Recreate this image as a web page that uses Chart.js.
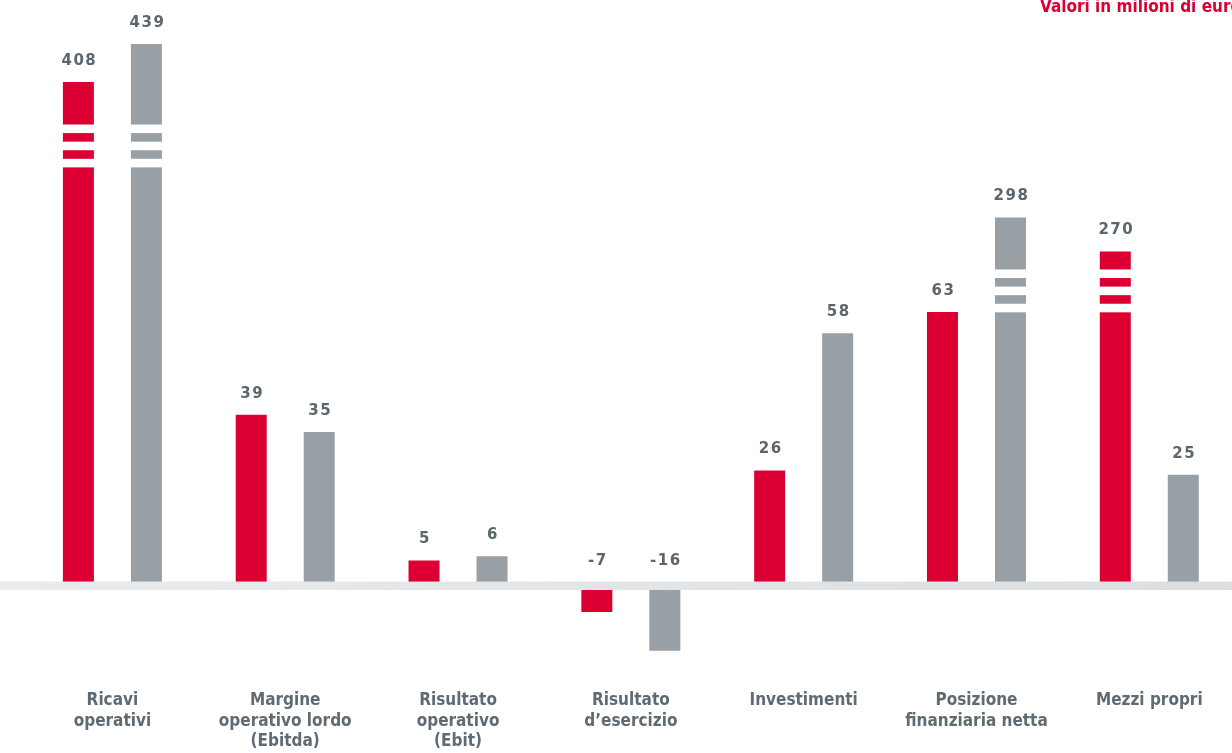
<!DOCTYPE html>
<html>
<head>
<meta charset="utf-8">
<script src="https://cdn.jsdelivr.net/npm/chart.js"></script>
<style>
  html, body { margin: 0; padding: 0; background: #fff; overflow: hidden; }
  #wrap { position: relative; width: 1240px; height: 753px; overflow: hidden; }
  #note {
    position: absolute; left: 1040px; top: -4px; white-space: nowrap;
    font: bold 17px 'Liberation Sans Narrow', 'DejaVu Sans Condensed', sans-serif;
    color: #dc0032; line-height: 20px;
  }
</style>
</head>
<body>
<div id="wrap">
  <canvas id="chart" width="1240" height="775"></canvas>
  <div id="note">Valori in milioni di euro</div>
</div>
<script>
// categories (multi-line labels)
const categories = [
  ['Ricavi', 'operativi'],
  ['Margine', 'operativo lordo', '(Ebitda)'],
  ['Risultato', 'operativo', '(Ebit)'],
  ['Risultato', 'd\u2019esercizio'],
  ['Investimenti'],
  ['Posizione', 'finanziaria netta'],
  ['Mezzi propri']
];

// printed values
const redValues  = [408, 39, 5, -7, 26, 63, 270];
const grayValues = [439, 35, 6, -16, 58, 298, 25];

// bar heights as drawn (big bars are shortened by an axis break)
const redShown  = [116.6, 39, 5, -7, 26, 63, 77.1];
const grayShown = [125.5, 35, 6, -16, 58, 85, 25];

// where the break stripes start, per category (value units)
const breakFrom = [96.7, null, null, null, null, 62.9, 62.9];

const RED = '#dc0032';
const GRAY = '#989fa5';

const breakPlugin = {
  id: 'breaks',
  afterDatasetsDraw(chart) {
    const ctx = chart.ctx;
    const y = chart.scales.y;
    const sets = [[redValues, redShown], [grayValues, grayShown]];
    ctx.save();
    ctx.fillStyle = '#ffffff';
    sets.forEach((s, di) => {
      chart.getDatasetMeta(di).data.forEach((bar, i) => {
        if (breakFrom[i] == null || s[0][i] <= s[1][i]) return;
        for (let k = 0; k < 3; k++) {
          const lo = breakFrom[i] + k * 4;
          const top = y.getPixelForValue(lo + 2);
          const bot = y.getPixelForValue(lo);
          ctx.fillRect(bar.x - bar.width / 2 - 1, top, bar.width + 2, bot - top);
        }
      });
    });
    ctx.restore();
  }
};

const bandPlugin = {
  id: 'band',
  afterDatasetsDraw(chart) {
    const ctx = chart.ctx;
    const y0 = chart.scales.y.getPixelForValue(0);
    ctx.save();
    const g = ctx.createLinearGradient(0, 0, 1232, 0);
    g.addColorStop(0, '#e9ebec');
    g.addColorStop(1, '#dcdfe2');
    ctx.fillStyle = g;
    ctx.fillRect(0, y0 - 0.5, chart.width, 8.5);
    ctx.restore();
  }
};

const labelPlugin = {
  id: 'valueLabels',
  afterDatasetsDraw(chart) {
    const ctx = chart.ctx;
    const y0 = chart.scales.y.getPixelForValue(0);
    ctx.save();
    ctx.font = 'bold 15px "DejaVu Sans"';
    ctx.fillStyle = '#5b666e';
    ctx.textAlign = 'center';
    ctx.textBaseline = 'middle';
    ctx.letterSpacing = '1.5px';
    [redValues, grayValues].forEach((vals, di) => {
      chart.getDatasetMeta(di).data.forEach((bar, i) => {
        const top = vals[i] < 0 ? y0 : bar.y;
        ctx.fillText(String(vals[i]), bar.x + 1, top - 21);
      });
    });
    ctx.restore();
  }
};

new Chart(document.getElementById('chart'), {
  type: 'bar',
  data: {
    labels: categories,
    datasets: [
      { data: redShown, backgroundColor: RED, borderWidth: 0 },
      { data: grayShown, backgroundColor: GRAY, borderWidth: 0 }
    ]
  },
  options: {
    responsive: false,
    animation: false,
    devicePixelRatio: 1,
    categoryPercentage: 0.787,
    barPercentage: 0.456,
    layout: { padding: { left: 26, right: 4.3, top: 24.6, bottom: 0 } },
    plugins: { legend: { display: false }, tooltip: { enabled: false } },
    scales: {
      x: {
        grid: { display: false, drawTicks: false },
        border: { display: false },
        ticks: {
          padding: 23,
          color: '#5f6a72',
          maxRotation: 0,
          autoSkip: false,
          font: { family: "'Liberation Sans Narrow', 'DejaVu Sans Condensed', sans-serif", size: 17, weight: 'bold', lineHeight: 1.2 }
        }
      },
      y: {
        display: false,
        min: -20,
        max: 130
      }
    }
  },
  plugins: [breakPlugin, bandPlugin, labelPlugin]
});
</script>
</body>
</html>
